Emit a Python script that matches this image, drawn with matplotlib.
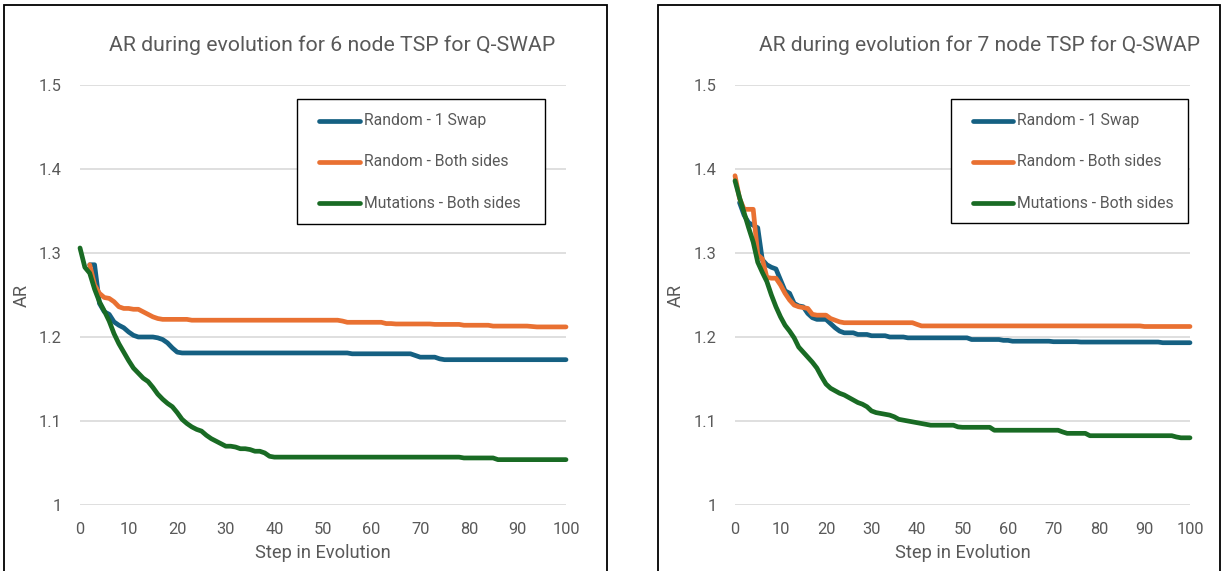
import numpy as np
import matplotlib
matplotlib.use("Agg")
import matplotlib.pyplot as plt
from matplotlib.patches import Rectangle
from matplotlib.lines import Line2D

# ---------------- data ----------------
steps = list(range(101))
series_names = ["Random - 1 Swap", "Random - Both sides", "Mutations - Both sides"]
titles = ["AR during evolution for 6 node TSP for Q-SWAP",
          "AR during evolution for 7 node TSP for Q-SWAP"]
x_ticks = [0, 10, 20, 30, 40, 50, 60, 70, 80, 90, 100]
y_ticks = [1.0, 1.1, 1.2, 1.3, 1.4, 1.5]
y_tick_labels = ["1", "1.1", "1.2", "1.3", "1.4", "1.5"]
N = None

# 6 node TSP
six_random_1swap = [N, N, 1.286, 1.286, 1.240, 1.230, 1.227, 1.218, 1.214, 1.211,
    1.206, 1.202, 1.200, 1.200, 1.200, 1.200, 1.199, 1.197, 1.193, 1.187,
    1.182, 1.181, 1.181, 1.181, 1.181, 1.181, 1.181, 1.181, 1.181, 1.181,
    1.181, 1.181, 1.181, 1.181, 1.181, 1.181, 1.181, 1.181, 1.181, 1.181,
    1.181, 1.181, 1.181, 1.181, 1.181, 1.181, 1.181, 1.181, 1.181, 1.181,
    1.181, 1.181, 1.181, 1.181, 1.181, 1.181, 1.180, 1.180, 1.180, 1.180,
    1.180, 1.180, 1.180, 1.180, 1.180, 1.180, 1.180, 1.180, 1.180, 1.178,
    1.176, 1.176, 1.176, 1.176, 1.174, 1.173, 1.173, 1.173, 1.173, 1.173,
    1.173, 1.173, 1.173, 1.173, 1.173, 1.173, 1.173, 1.173, 1.173, 1.173,
    1.173, 1.173, 1.173, 1.173, 1.173, 1.173, 1.173, 1.173, 1.173, 1.173,
    1.173]
six_random_both = [N, N, 1.286, 1.262, 1.252, 1.247, 1.246, 1.242, 1.236, 1.234,
    1.234, 1.233, 1.233, 1.230, 1.227, 1.224, 1.222, 1.221, 1.221, 1.221,
    1.221, 1.221, 1.221, 1.220, 1.220, 1.220, 1.220, 1.220, 1.220, 1.220,
    1.220, 1.220, 1.220, 1.220, 1.220, 1.220, 1.220, 1.220, 1.220, 1.220,
    1.220, 1.220, 1.220, 1.220, 1.220, 1.220, 1.220, 1.220, 1.220, 1.220,
    1.220, 1.220, 1.220, 1.220, 1.219, 1.2175, 1.2175, 1.2175, 1.2175, 1.2175,
    1.2175, 1.2175, 1.2175, 1.216, 1.216, 1.2155, 1.2155, 1.2155, 1.2155, 1.2155,
    1.2155, 1.2155, 1.2155, 1.215, 1.215, 1.215, 1.215, 1.215, 1.215, 1.214,
    1.214, 1.214, 1.214, 1.214, 1.214, 1.213, 1.213, 1.213, 1.213, 1.213,
    1.213, 1.213, 1.213, 1.2125, 1.212, 1.212, 1.212, 1.212, 1.212, 1.212,
    1.212]
six_mutations_both = [1.306, 1.283, 1.276, 1.257, 1.242, 1.231, 1.219, 1.204, 1.192, 1.182,
    1.172, 1.163, 1.157, 1.151, 1.147, 1.140, 1.132, 1.126, 1.121, 1.117,
    1.110, 1.102, 1.097, 1.093, 1.090, 1.088, 1.083, 1.079, 1.076, 1.073,
    1.070, 1.070, 1.069, 1.067, 1.067, 1.066, 1.064, 1.064, 1.062, 1.058,
    1.057, 1.057, 1.057, 1.057, 1.057, 1.057, 1.057, 1.057, 1.057, 1.057,
    1.057, 1.057, 1.057, 1.057, 1.057, 1.057, 1.057, 1.057, 1.057, 1.057,
    1.057, 1.057, 1.057, 1.057, 1.057, 1.057, 1.057, 1.057, 1.057, 1.057,
    1.057, 1.057, 1.057, 1.057, 1.057, 1.057, 1.057, 1.057, 1.057, 1.056,
    1.056, 1.056, 1.056, 1.056, 1.056, 1.056, 1.054, 1.054, 1.054, 1.054,
    1.054, 1.054, 1.054, 1.054, 1.054, 1.054, 1.054, 1.054, 1.054, 1.054,
    1.054]

# 7 node TSP
seven_random_1swap = [N, 1.360, 1.345, 1.336, 1.333, 1.330, 1.292, 1.286, 1.283, 1.281,
    1.268, 1.255, 1.252, 1.240, 1.237, 1.236, 1.228, 1.223, 1.221, 1.221,
    1.221, 1.216, 1.211, 1.207, 1.205, 1.205, 1.205, 1.203, 1.203, 1.203,
    1.2015, 1.2015, 1.2015, 1.2015, 1.200, 1.200, 1.200, 1.200, 1.199, 1.199,
    1.199, 1.199, 1.199, 1.199, 1.199, 1.199, 1.199, 1.199, 1.199, 1.199,
    1.199, 1.199, 1.197, 1.197, 1.197, 1.197, 1.197, 1.197, 1.197, 1.196,
    1.196, 1.195, 1.195, 1.195, 1.195, 1.195, 1.195, 1.195, 1.195, 1.195,
    1.1944, 1.1944, 1.1944, 1.1944, 1.1944, 1.1944, 1.194, 1.194, 1.194, 1.194,
    1.194, 1.194, 1.194, 1.194, 1.194, 1.194, 1.194, 1.194, 1.194, 1.194,
    1.194, 1.194, 1.194, 1.194, 1.1932, 1.1932, 1.1932, 1.1932, 1.1932, 1.1932,
    1.1932]
seven_random_both = [1.392, 1.365, 1.352, 1.352, 1.352, 1.298, 1.293, 1.271, 1.270, 1.270,
    1.262, 1.252, 1.244, 1.238, 1.236, 1.235, 1.234, 1.227, 1.226, 1.226,
    1.226, 1.222, 1.220, 1.218, 1.217, 1.217, 1.217, 1.217, 1.217, 1.217,
    1.217, 1.217, 1.217, 1.217, 1.217, 1.217, 1.217, 1.217, 1.217, 1.217,
    1.215, 1.2132, 1.2132, 1.2132, 1.2132, 1.2132, 1.2132, 1.2132, 1.2132, 1.2132,
    1.2132, 1.2132, 1.2132, 1.2132, 1.2132, 1.2132, 1.2132, 1.2132, 1.2132, 1.2132,
    1.2132, 1.2132, 1.2132, 1.2132, 1.2132, 1.2132, 1.2132, 1.2132, 1.2132, 1.2132,
    1.2132, 1.2132, 1.2132, 1.2132, 1.2132, 1.2132, 1.2132, 1.2132, 1.2132, 1.2132,
    1.2132, 1.2132, 1.2132, 1.2132, 1.2132, 1.2132, 1.2132, 1.2132, 1.2132, 1.2132,
    1.2125, 1.2125, 1.2125, 1.2125, 1.2125, 1.2125, 1.2125, 1.2125, 1.2125, 1.2125,
    1.2125]
seven_mutations_both = [1.386, 1.366, 1.348, 1.330, 1.313, 1.289, 1.277, 1.266, 1.250, 1.236,
    1.224, 1.214, 1.207, 1.199, 1.188, 1.182, 1.176, 1.170, 1.163, 1.153,
    1.144, 1.139, 1.136, 1.133, 1.131, 1.128, 1.125, 1.122, 1.120, 1.117,
    1.112, 1.110, 1.109, 1.108, 1.107, 1.105, 1.102, 1.101, 1.100, 1.099,
    1.098, 1.097, 1.096, 1.095, 1.095, 1.095, 1.095, 1.095, 1.095, 1.093,
    1.0925, 1.0925, 1.0925, 1.0925, 1.0925, 1.0925, 1.0925, 1.089, 1.089, 1.089,
    1.089, 1.089, 1.089, 1.089, 1.089, 1.089, 1.089, 1.089, 1.089, 1.089,
    1.089, 1.089, 1.087, 1.0853, 1.0853, 1.0853, 1.0853, 1.0853, 1.0825, 1.0825,
    1.0825, 1.0825, 1.0825, 1.0825, 1.0825, 1.0825, 1.0825, 1.0825, 1.0825, 1.0825,
    1.0825, 1.0825, 1.0825, 1.0825, 1.0825, 1.0825, 1.0825, 1.081, 1.080, 1.080,
    1.080]

colors = ["#156082", "#E97132", "#196B24"]

# ---------------- figure ----------------
W, H = 1223, 571
plt.rcParams["font.family"] = ["Roboto", "DejaVu Sans"]
fig = plt.figure(figsize=(W / 100, H / 100), dpi=100)
fig.patch.set_facecolor("white")
renderer = fig.canvas.get_renderer()
TXT = "#595959"


def fx(x):
    return x / W


def fy(y):
    return 1 - y / H


def fit(t, width_px):
    w = t.get_window_extent(renderer).width
    t.set_fontsize(t.get_fontsize() * width_px / w)


panels = [
    dict(border=(4, 607), axes=(80, 566), title_right=555, title_w=447, ar_x=22,
         legend=(297, 545, 99, 224), handle=(319, 360), text_x=364,
         data=[six_random_1swap, six_random_both, six_mutations_both],
         title=titles[0]),
    dict(border=(658, 1220), axes=(735, 1190), title_right=1200, title_w=440, ar_x=676,
         legend=(951, 1188, 99, 223), handle=(973, 1013), text_x=1017,
         data=[seven_random_1swap, seven_random_both, seven_mutations_both],
         title=titles[1]),
]

for p in panels:
    b0, b1 = p["border"]
    fig.add_artist(Rectangle((fx(b0), -0.05), fx(b1) - fx(b0), fy(5) + 0.05,
                             transform=fig.transFigure, fill=False,
                             edgecolor="#000000", lw=1.3, zorder=0))
    a0, a1 = p["axes"]
    ax = fig.add_axes([fx(a0), fy(505), fx(a1) - fx(a0), fy(85) - fy(505)])
    ax.set_xlim(0, 100)
    ax.set_ylim(1.0, 1.5)
    for s in ax.spines.values():
        s.set_visible(False)
    ax.set_yticks(y_ticks)
    ax.set_yticklabels(y_tick_labels)
    ax.set_xticks(x_ticks)
    ax.tick_params(length=0, labelsize=11.8, labelcolor=TXT)
    ax.tick_params(axis="y", pad=13)
    ax.tick_params(axis="x", pad=12)
    ax.grid(axis="y", color="#D9D9D9", lw=1.2)
    ax.set_axisbelow(True)
    lines = []
    for vals, c in zip(p["data"], colors):
        v = np.array([np.nan if q is None else q for q in vals], dtype=float)
        ln, = ax.plot(steps, v, color=c, lw=3.4, solid_capstyle="round",
                      solid_joinstyle="round", clip_on=False)
        lines.append(ln)
    # title
    t = fig.text(fx(p["title_right"]), fy(45), p["title"], ha="right",
                 va="center", color=TXT, fontsize=15)
    fit(t, p["title_w"])
    # axis labels
    xl = fig.text(fx((a0 + a1) / 2), fy(553), "Step in Evolution", ha="center",
                  va="center", color=TXT, fontsize=12)
    fit(xl, 134)
    yl = fig.text(fx(p["ar_x"]), fy(296), "AR", ha="center", va="center",
                  rotation=90, color=TXT, fontsize=12)
    yl.set_fontsize(xl.get_fontsize())
    # legend
    l0, l1, t0, t1 = p["legend"]
    fig.add_artist(Rectangle((fx(l0), fy(t1)), fx(l1) - fx(l0), fy(t0) - fy(t1),
                             transform=fig.transFigure, facecolor="white",
                             edgecolor="#000000", lw=1.0, zorder=5))
    h0, h1 = p["handle"]
    for i, (ln, name) in enumerate(zip(lines, series_names)):
        yy = [121, 162, 203][i]
        fig.add_artist(Line2D([fx(h0), fx(h1)], [fy(yy), fy(yy)],
                              transform=fig.transFigure, color=ln.get_color(),
                              lw=3.4, solid_capstyle="round", zorder=6))
        tt = fig.text(fx(p["text_x"]), fy(yy), name, ha="left", va="center",
                      color=TXT, fontsize=11.5, zorder=7)
        if i == 2:
            fit(tt, 158)
            lf = tt.get_fontsize()
    for txt in fig.texts[-3:]:
        txt.set_fontsize(lf)

fig.savefig("out.png", dpi=100, facecolor="white")
